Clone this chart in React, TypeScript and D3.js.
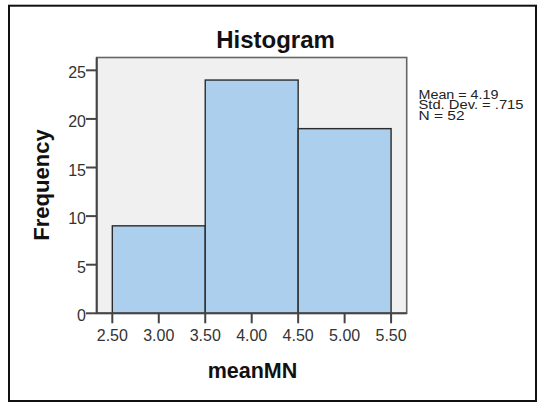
import React from "react";
import * as d3 from "d3";

const binStarts = [2.5, 3.5, 4.5];
const binEnds = [3.5, 4.5, 5.5];
const frequencies = [9, 24, 19];
const xTicks = [2.5, 3.0, 3.5, 4.0, 4.5, 5.0, 5.5];
const xTickLabels = ["2.50", "3.00", "3.50", "4.00", "4.50", "5.00", "5.50"];
const yTicks = [0, 5, 10, 15, 20, 25];
const statLines = ["Mean = 4.19", "Std. Dev. = .715", "N = 52"];
const statWidths = [80, 105, 46];
const title = "Histogram";
const xTitle = "meanMN";
const yTitle = "Frequency";

const W = 537;
const H = 403;
const plot = { left: 96.7, right: 406.7, top: 57.5, bottom: 313.3 };
const FONT = "'Liberation Sans', Arial, sans-serif";

export default function App() {
  const x = d3.scaleLinear().domain([2.332, 5.668]).range([plot.left, plot.right]);
  const y = d3.scaleLinear().domain([0, 26.32]).range([plot.bottom, plot.top]);

  return (
    <svg
      width={W}
      height={H}
      style={{ position: "absolute", left: 0, top: 0, background: "#fff" }}
      fontFamily={FONT}
    >
      <rect x={0} y={0} width={W} height={H} fill="#fff" />
      {/* outer frame */}
      <rect x={9} y={5.7} width={527} height={395.3} fill="none" stroke="#111" strokeWidth={2} />

      {/* title */}
      <text x={275.5} y={48.3} textAnchor="middle" fontSize={24} fontWeight="bold" fill="#111">
        {title}
      </text>

      {/* plot background */}
      <rect
        x={plot.left}
        y={plot.top}
        width={plot.right - plot.left}
        height={plot.bottom - plot.top}
        fill="#f0f0f0"
        stroke="#666"
        strokeWidth={1.6}
      />

      {/* bars */}
      {frequencies.map((f, i) => (
        <rect
          key={i}
          x={x(binStarts[i])}
          y={y(f)}
          width={x(binEnds[i]) - x(binStarts[i])}
          height={y(0) - y(f)}
          fill="#abcfed"
          stroke="#2b2b2b"
          strokeWidth={1.4}
        />
      ))}

      {/* axes lines */}
      <line x1={plot.left} x2={plot.left} y1={plot.top} y2={plot.bottom} stroke="#444" strokeWidth={2} />
      <line x1={plot.left} x2={plot.right} y1={plot.bottom} y2={plot.bottom} stroke="#444" strokeWidth={2} />

      {/* y ticks */}
      {yTicks.map((t) => (
        <g key={t}>
          <line x1={86} x2={plot.left} y1={y(t)} y2={y(t)} stroke="#444" strokeWidth={2} />
          <text x={86} y={y(t) + 8} textAnchor="end" fontSize={16} fill="#333">
            {t}
          </text>
        </g>
      ))}

      {/* x ticks */}
      {xTicks.map((t, i) => (
        <g key={t}>
          <line x1={x(t)} x2={x(t)} y1={plot.bottom} y2={plot.bottom + 10} stroke="#444" strokeWidth={2} />
          <text x={x(t)} y={340.7} textAnchor="middle" fontSize={16} fill="#333">
            {xTickLabels[i]}
          </text>
        </g>
      ))}

      {/* axis titles */}
      <text x={252.5} y={378.3} textAnchor="middle" fontSize={21.5} fontWeight="bold" fill="#111">
        {xTitle}
      </text>
      <text
        transform={`translate(49,185) rotate(-90)`}
        textAnchor="middle"
        fontSize={22}
        fontWeight="bold"
        fill="#111"
      >
        {yTitle}
      </text>

      {/* stats */}
      {statLines.map((s, i) => (
        <text
          key={s}
          x={418.5}
          y={98.8 + i * 10.5}
          fontSize={12}
          fill="#222"
          textLength={statWidths[i]}
          lengthAdjust="spacingAndGlyphs"
        >
          {s}
        </text>
      ))}
    </svg>
  );
}
